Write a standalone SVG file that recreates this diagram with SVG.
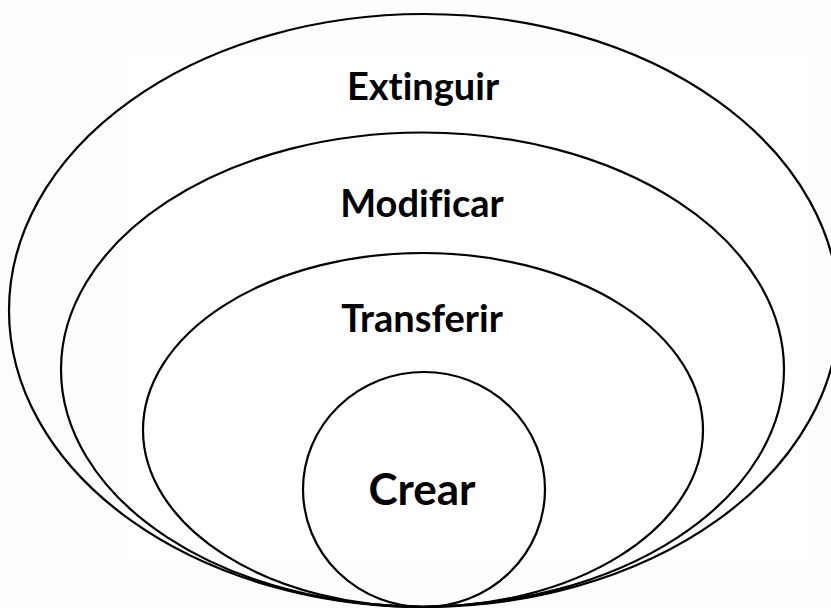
<svg xmlns="http://www.w3.org/2000/svg" width="831" height="608" viewBox="0 0 831 608">
<style>
.ring{fill:none;stroke:#000;stroke-width:2.2}
.lbl{font-family:Lato,"Open Sans","Liberation Sans",sans-serif;font-weight:bold;fill:#000;text-anchor:middle;font-variant-ligatures:none;font-feature-settings:"liga" 0,"dlig" 0,"clig" 0}
</style>
<rect x="0" y="0" width="831" height="608" fill="#fdfdfd"/>
<rect x="129" y="55" width="679" height="508" fill="#ffffff"/>
<g id="extinguir">
<ellipse class="ring" cx="424" cy="310.5" rx="415" ry="296.5"/>
<text class="lbl" x="423" y="100" font-size="38">Extinguir</text>
</g>
<g id="modificar">
<ellipse class="ring" cx="422.5" cy="369.5" rx="361.5" ry="237"/>
<text class="lbl" x="422" y="217" font-size="38">Modificar</text>
</g>
<g id="transferir">
<ellipse class="ring" cx="423" cy="430" rx="280" ry="177"/>
<text class="lbl" x="422" y="332" font-size="38">Transferir</text>
</g>
<g id="crear">
<ellipse class="ring" cx="424" cy="489.5" rx="121" ry="117.5"/>
<text class="lbl" x="422" y="505" font-size="44">Crear</text>
</g>
<g id="connectors"></g>
</svg>
